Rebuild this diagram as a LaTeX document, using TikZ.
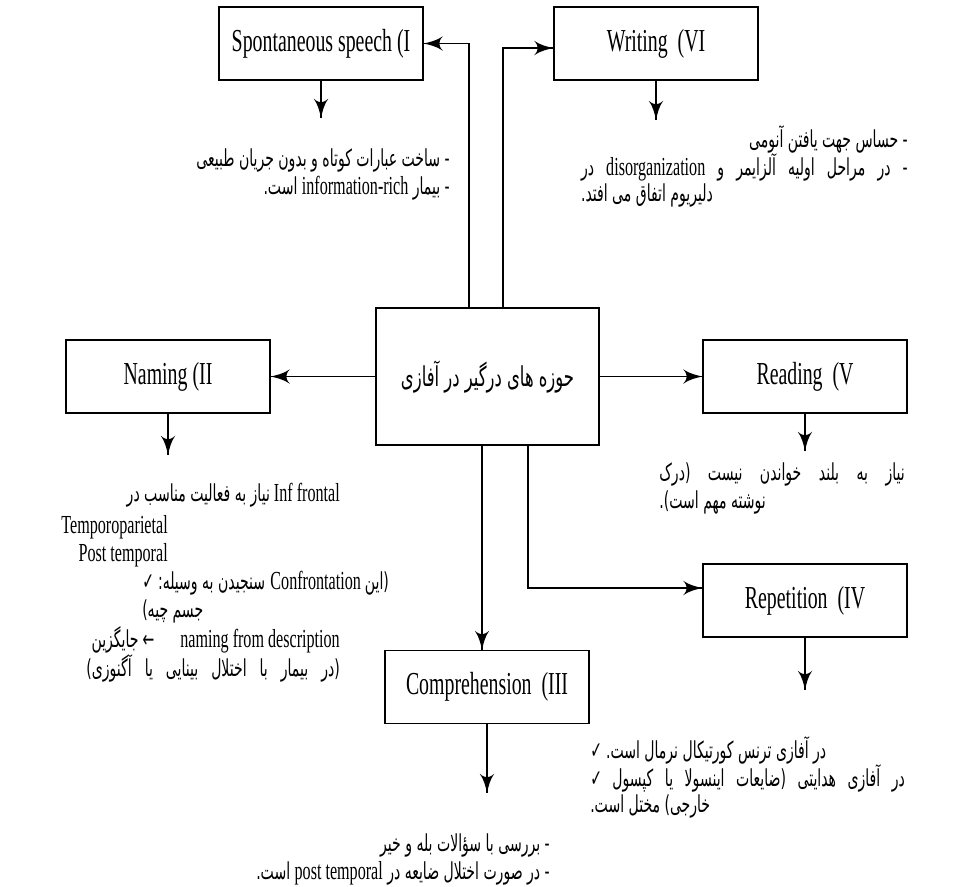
\documentclass[tikz,border=0pt]{standalone}
\usepackage{fontspec}
\setmainfont[FakeStretch=0.62]{Liberation Serif}
\newfontfamily\fafont[Script=Arabic,Scale=0.9,FakeStretch=0.6]{DejaVu Sans}
\TeXXeTstate=1
\usetikzlibrary{arrows}
\usetikzlibrary{decorations.markings}
\usetikzlibrary{positioning}
\newcommand{\pers}[1]{{\fafont\beginR #1\endR}}
\newcommand{\lat}[1]{{\rmfamily\beginL #1\endL}}
\newcommand{\jline}[2]{\makebox[#1][s]{#2}}
\tikzset{arr/.style = {line width=1pt,
                       decoration={markings,
                                   mark=at position 1 with {\arrow[scale=2.5]{latex'}}},
                       postaction={decorate}}}
\tikzset{box/.style = {draw, line width=0.8pt, inner sep=0,
                       minimum width=153pt, minimum height=54.75pt,
                       font=\fontsize{24}{28}\selectfont}}
\tikzset{hub/.style = {box, minimum width=167.25pt, minimum height=102.75pt,
                       font=\fontsize{22.8}{27}\selectfont}}
\tikzset{note/.style = {inner sep=0, font=\fontsize{19.5}{23}\selectfont}}

\begin{document}
\begin{tikzpicture}[x=0.75pt, y=-0.75pt]
      \useasboundingbox (0, 0) rectangle (977, 886);
      \node [hub] (hub) at (487.5, 376.5) {\pers{حوزه های درگیر در آفازی}};
      \node [box] (spont) at (321, 43.5) {Spontaneous speech (I};
      \node [box] (writ) at (656, 43.5) {Writing~~(VI};
      \node [box] (nam) at (168, 376.5) {Naming (II};
      \node [box] (read) at (805, 376.5) {Reading~~(V};
      \node [box] (rep) at (805, 600.5) {Repetition~~(IV};
      \node [box] (comp) at (487, 687) {Comprehension~~(III};

      \draw [arr] ([xshift=-13.875pt]hub.north) |- (spont.east);
      \draw [arr] ([xshift=11.625pt]hub.north) |- ([yshift=-3.4pt]writ.west);
      \draw [arr] (hub.west) -- (nam.east);
      \draw [arr] (hub.east) -- (read.west);
      \draw [arr] ([xshift=-4.125pt]hub.south) -- ([xshift=-4.125pt]hub.south |- comp.north);
      \draw [arr] ([xshift=30.375pt]hub.south) |- ([yshift=9.375pt]rep.west);

      \coordinate (spont-end) at (321, 118);
      \coordinate (writ-end) at (656, 120);
      \coordinate (nam-end) at (168, 455);
      \coordinate (read-end) at (805, 451);
      \coordinate (rep-end) at (805, 690);
      \coordinate (comp-end) at (487, 793);
      \draw [arr] (spont.south) -- (spont-end);
      \draw [arr] (writ.south) -- (writ-end);
      \draw [arr] (nam.south) -- (nam-end);
      \draw [arr] (read.south) -- (read-end);
      \draw [arr] (rep.south) -- (rep-end);
      \draw [arr] (comp.south) -- (comp-end);

      \node [note, anchor=east] (sp1) at (450, 160) {\pers{- ساخت عبارات کوتاه و بدون جریان طبیعی}};
      \node [note, anchor=east] (sp2) at (450, 188) {\pers{- بیمار \lat{information-rich} است.}};

      \node [note, anchor=east] (wr1) at (908, 139) {\pers{- حساس جهت یافتن آنومی}};
      \node [note, anchor=east] (wr2) at (908, 167) {\jline{245pt}{\pers{- در مراحل اولیه آلزایمر و \lat{disorganization} در}}};
      \node [note, anchor=west] (wr3) at ([yshift=-21pt]wr2.west) {\pers{دلیریوم اتفاق می افتد.}};

      \node [note, anchor=east] (rd1) at (905, 474) {\jline{184pt}{\pers{نیاز به بلند خواندن نیست (درک}}};
      \node [note, anchor=west] (rd2) at ([yshift=-21pt]rd1.west) {\pers{نوشته مهم است).}};

      \node [note, anchor=east] (nm1) at (340, 495) {\pers{نیاز به فعالیت مناسب در} Inf frontal};
      \node [note, anchor=east] (nm2) at (168, 527) {Temporoparietal};
      \node [note, anchor=east] (nm3) at (168, 555) {Post temporal};
      \node [note, anchor=west] (nm4) at (142, 583) {{\fafont ✓} \pers{سنجیدن به وسیله:} Confrontation \pers{(این}};
      \node [note, anchor=west] (nm5) at (142, 611) {\pers{جسم چیه)}};
      \node [note, anchor=east] (nm6) at (340, 640) {\pers{جایگزین} {\fafont ←}\hspace{1em}naming from description};
      \node [note, anchor=east] (nm7) at (340, 668) {\jline{190pt}{\pers{(در بیمار با اختلال بینایی یا آگنوزی)}}};

      \node [note, anchor=west] (rp1) at (590, 750) {{\fafont ✓} \pers{در آفازی ترنس کورتیکال نرمال است.}};
      \node [note, anchor=west] (rp2) at (590, 778) {\jline{236pt}{{\fafont ✓} \pers{در آفازی هدایتی (ضایعات اینسولا یا کپسول}}};
      \node [note, anchor=west] (rp3) at (590, 806) {\pers{خارجی) مختل است.}};

      \node [note, anchor=east] (cp1) at (550, 845) {\pers{- بررسی با سؤالات بله و خیر}};
      \node [note, anchor=east] (cp2) at (550, 873) {\pers{- در صورت اختلال ضایعه در \lat{post temporal} است.}};
    \end{tikzpicture}
\end{document}
